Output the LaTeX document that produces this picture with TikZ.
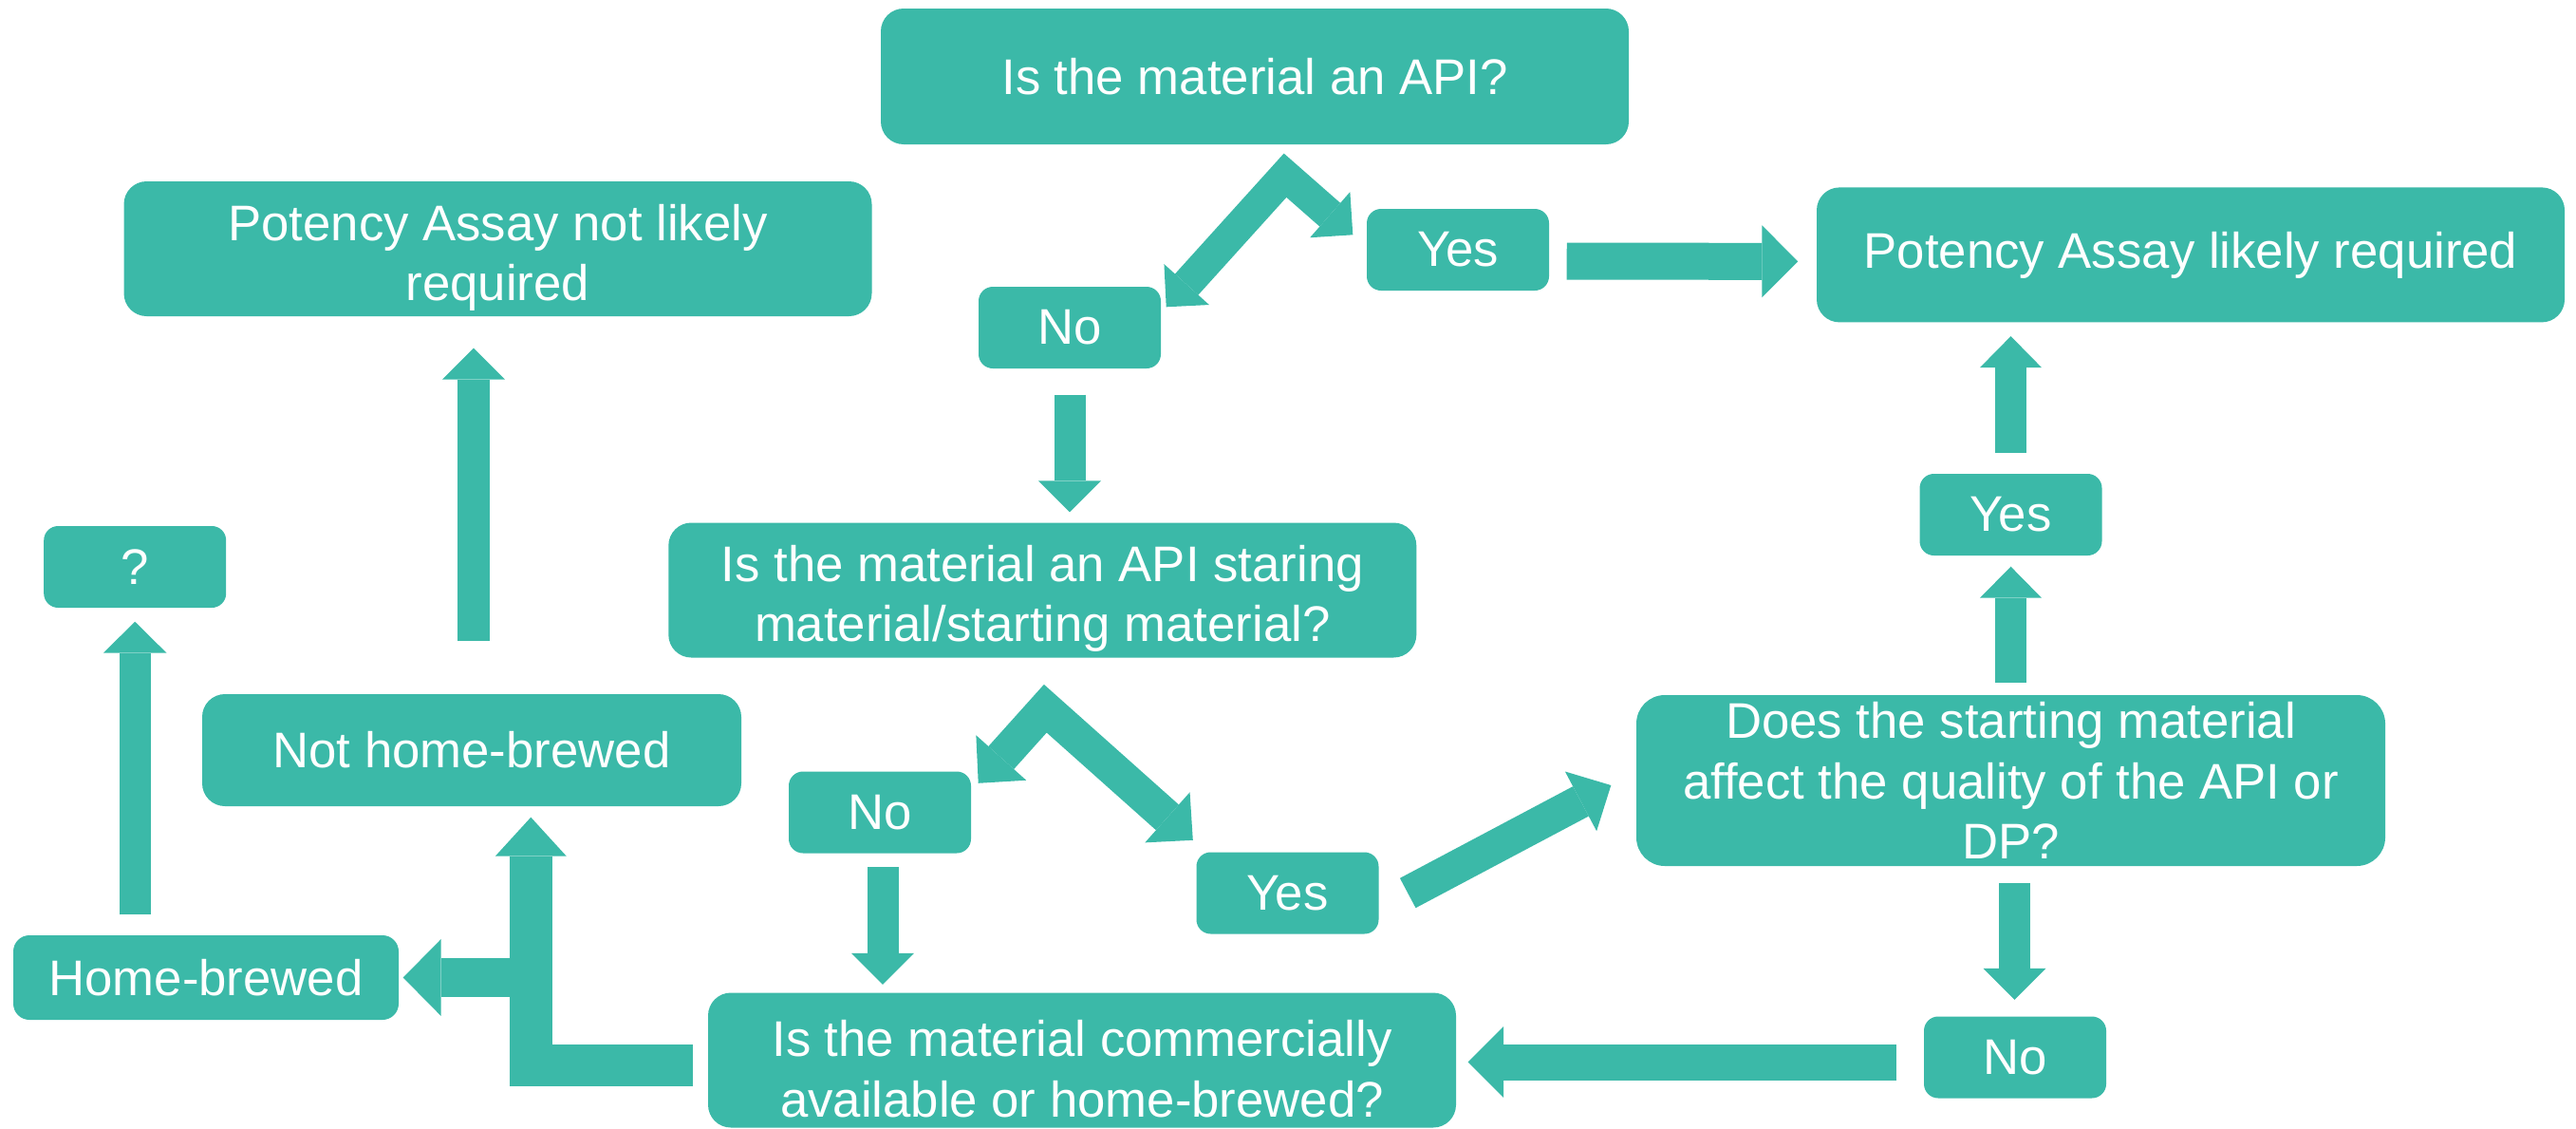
\documentclass[tikz,border=0pt]{standalone}
\usepackage{fontspec}
\setmainfont{Liberation Sans}
\usetikzlibrary{arrows.meta, calc, positioning}
\definecolor{tealbox}{RGB}{59,185,168}
\newcommand{\boxlift}{\rule{0pt}{16pt}}

\begin{document}
\begin{tikzpicture}[
    box/.style={rectangle, rounded corners=0.24cm, fill=tealbox, text=white,
      align=center, inner sep=0pt, font=\fontsize{15pt}{18pt}\selectfont},
    widebox/.style={box, minimum width=7.88cm, minimum height=1.42cm},
    tagbox/.style={box, rounded corners=0.15cm, minimum width=1.92cm, minimum height=0.86cm},
    blk/.style n args={3}{draw=tealbox, line width=#1,
      -{Triangle[width=#2, length=#3, line width=0pt]}},
    dblk/.style n args={3}{draw=tealbox, line width=#1,
      {Triangle[width=#2, length=#3, line width=0pt]}-{Triangle[width=#2, length=#3, line width=0pt]}}]
  \useasboundingbox (0,0) rectangle (27.14,11.88);
  % boxes
  \node[widebox, minimum height=1.43cm] (api) at (13.22,11.075) {Is the material an API?};
  \node[widebox] (notreq) at (5.245,9.26) {\boxlift Potency Assay not likely\\required};
  \node[tagbox] (yes1) at (15.36,9.25) {Yes};
  \node[tagbox] (no1) at (11.27,8.43) {No};
  \node[widebox] (req) at (23.08,9.196) {Potency Assay likely required};
  \node[widebox] (start) at (10.983,5.665) {\boxlift Is the material an API staring\\material/starting material?};
  \node[tagbox] (unk) at (1.422,5.91) {?};
  \node[tagbox] (yes3) at (21.185,6.46) {Yes};
  \node[box, minimum width=5.68cm, minimum height=1.18cm] (nothb) at (4.97,3.98) {Not home-brewed};
  \node[box, rounded corners=0.3cm, minimum width=7.89cm, minimum height=1.80cm] (affect) at (21.185,3.66)
    {Does the starting material\\affect the quality of the API or\\DP?};
  \node[tagbox] (no2) at (9.27,3.325) {No};
  \node[tagbox] (yes2) at (13.565,2.475) {Yes};
  \node[box, rounded corners=0.17cm, minimum width=4.06cm, minimum height=0.89cm] (hb) at (2.17,1.585) {Home-brewed};
  \node[widebox] (comm) at (11.40,0.715) {\boxlift Is the material commercially\\available or home-brewed?};
  \node[tagbox] (no3) at (21.23,0.745) {No};

  % API? -> No / Yes
  \coordinate (k1) at ($(api.south)+(0.32,-0.32)$);
  \draw[dblk={0.33cm}{0.64cm}{0.32cm}] ($(no1.north east)+(0.05,-0.22)$) -- (k1) -- ($(yes1.north west)+(-0.14,-0.28)$);
  \draw[blk={0.39cm}{0.76cm}{0.38cm}] ($(yes1.east)+(0.18,-0.12)$) -- ($(req.west)+(-0.19,-0.07)$);
  \draw[blk={0.33cm}{0.66cm}{0.33cm}] ($(no1.south)+(0,-0.27)$) -- ($(no1.south |- start.north)+(0,0.105)$);

  % starting material? -> No / Yes
  \coordinate (k2) at ($(start.south)+(0.03,-0.53)$);
  \draw[dblk={0.36cm}{0.71cm}{0.36cm}] ($(no2.north east)+(0.07,-0.13)$) -- (k2) -- ($(yes2.north west)+(-0.03,0.12)$);
  \draw[blk={0.33cm}{0.66cm}{0.33cm}] ($(no2.south)+(0.03,-0.14)$) -- ($(no2.south |- comm.north)+(0.03,0.08)$);
  \draw[blk={0.355cm}{0.71cm}{0.36cm}] ($(yes2.east)+(0.30,0)$) -- ($(affect.west)+(-0.26,-0.05)$);

  % quality? -> Yes / No
  \draw[blk={0.33cm}{0.65cm}{0.33cm}] ($(affect.north)+(0,0.12)$) -- ($(yes3.south)+(0,-0.11)$);
  \draw[blk={0.33cm}{0.65cm}{0.33cm}] ($(yes3.north)+(0,0.21)$) -- ($(yes3.north |- req.south)+(0,-0.14)$);
  \draw[blk={0.33cm}{0.66cm}{0.33cm}] ($(affect.south)+(0.04,-0.17)$) -- ($(affect.south |- no3.north)+(0.04,0.17)$);
  \draw[blk={0.38cm}{0.75cm}{0.375cm}] ($(no3.west)+(-0.28,-0.05)$) -- ($(comm.east |- no3.west)+(0.12,-0.05)$);

  % commercially available? -> home-brewed / not
  \coordinate (c1) at ($(comm.west)+(-1.86,-0.057)$);
  \draw[blk={0.445cm}{0.75cm}{0.41cm}] ($(comm.west)+(-0.15,-0.057)$) -- (c1) -- ($(c1 |- nothb.south)+(0,-0.11)$);
  \draw[blk={0.41cm}{0.81cm}{0.40cm}] (c1 |- hb.east) -- ($(hb.east)+(0.04,0)$);
  \draw[blk={0.333cm}{0.667cm}{0.33cm}] ($(hb.north -| unk.south)+(0,0.21)$) -- ($(unk.south)+(0,-0.14)$);
  \draw[blk={0.337cm}{0.663cm}{0.33cm}] ($(nothb.north)+(0.02,0.55)$) -- ($(nothb.north |- notreq.south)+(0.02,-0.33)$);
\end{tikzpicture}
\end{document}
